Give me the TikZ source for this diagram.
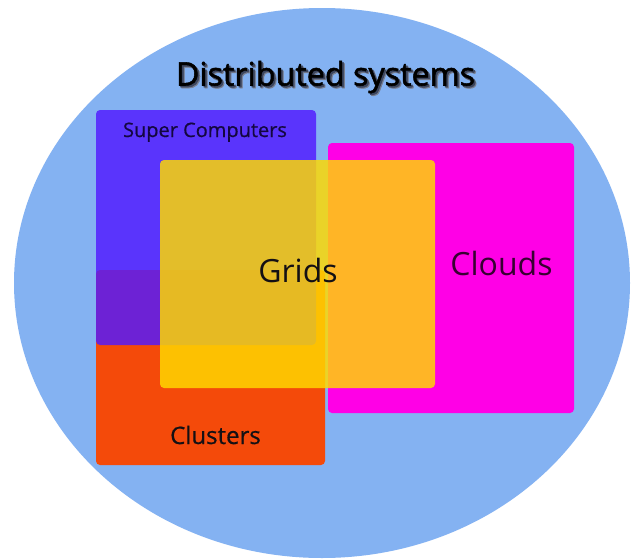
\documentclass[tikz,border=0pt]{standalone}
\usepackage{fontspec}
\usetikzlibrary{shapes.geometric}
\setmainfont{Open Sans}
\newfontfamily\titlefont[FakeBold=1.6]{Open Sans}
\newfontfamily\labelfont[FakeBold=0.6]{Open Sans}
\definecolor{skyfill}{RGB}{132,178,242}
\definecolor{clusterfill}{RGB}{244,74,10}
\definecolor{superfill}{RGB}{82,27,255}
\definecolor{cloudfill}{RGB}{255,0,230}
\definecolor{gridfill}{RGB}{255,218,0}
\definecolor{inkdark}{RGB}{20,16,20}
\definecolor{shadowgrey}{RGB}{60,70,95}
% title text with a soft shadow drawn beneath it
\newcommand{\shadowed}[1]{%
  \rlap{\kern2.6pt\raisebox{-2.6pt}{\color{shadowgrey!70}#1}}%
  \rlap{\kern1.6pt\raisebox{-1.6pt}{\color{shadowgrey}#1}}%
  #1}
\begin{document}
\begin{tikzpicture}[x=1pt,y=-1pt,
  area/.style={rectangle, rounded corners=4pt, inner sep=0pt, outer sep=0pt},
  label/.style={inner sep=0pt, outer sep=0pt, anchor=base, text=inkdark}]
  \useasboundingbox (0,0) rectangle (638,560);
  \fill[white] (0,0) rectangle (638,560);
  % outer domain
  \node[ellipse, fill=skyfill, inner sep=0pt, minimum width=616pt, minimum height=550pt] (dist) at (322,283) {};
  % overlapping families of systems
  \node[area, fill=clusterfill, minimum width=229pt, minimum height=195pt] (clusters) at (210.5,367.5) {};
  \node[area, fill=superfill, fill opacity=0.83, minimum width=220pt, minimum height=235pt] (super) at (206,227.5) {};
  \node[area, fill=cloudfill, minimum width=246pt, minimum height=270pt] (clouds) at (451,278) {};
  \node[area, fill=gridfill, fill opacity=0.83, minimum width=275pt, minimum height=228pt] (grids) at (297.5,274) {};
  % labels
  \node[label, font=\labelfont\fontsize{20}{22}\selectfont, text=superfill!25!black] (superlbl) at (205,137) {Super Computers};
  \node[label, font=\labelfont\fontsize{24}{27}\selectfont] (clusterslbl) at (215.5,444) {Clusters};
  \node[label, font=\fontsize{32}{36}\selectfont, text=cloudfill!22!black] (cloudslbl) at (501.5,275) {Clouds};
  \node[label, font=\fontsize{32}{36}\selectfont] (gridslbl) at (298,282) {Grids};
  % title
  \node[label, font=\titlefont\fontsize{32.3}{36}\selectfont, text=black] (title) at (325.5,85.5) {\shadowed{Distributed systems}};
\end{tikzpicture}
\end{document}
